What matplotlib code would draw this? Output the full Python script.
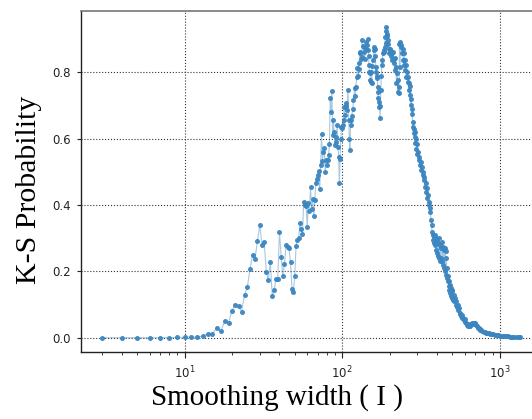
import matplotlib
matplotlib.use("Agg")
import matplotlib.pyplot as plt
import numpy as np

# ---- data (smoothing width, K-S probability) ----
widths_rise = [3, 4, 5, 6, 7, 8, 9, 10, 11, 12, 13, 14, 15, 16, 17, 18, 19, 20, 21, 22,
               23, 24, 25, 26, 27, 28, 29, 30, 31, 32, 33, 34, 35, 36, 37, 38, 39, 40, 41, 42,
               43, 44, 45, 46, 47, 48, 49, 50, 51, 52, 53, 54, 55, 56, 57, 58, 59, 60, 61, 62,
               63, 64, 65, 66, 67, 68, 69, 70, 71, 72, 73, 74, 75, 76, 77, 78, 79, 80, 81, 82,
               83, 84, 85, 86, 87, 88, 89, 90, 91, 92, 93, 94, 95, 96, 97, 98, 99, 100, 101, 102,
               103, 104, 105]
ks_rise = [0.0, 0.0, 0.0, 0.0, 0.0, 0.0, 0.001, 0.001, 0.002, 0.002,
           0.005, 0.01, 0.011, 0.03, 0.02, 0.051, 0.045, 0.082, 0.10, 0.095,
           0.079, 0.129, 0.152, 0.207, 0.25, 0.238, 0.292, 0.34, 0.28, 0.288,
           0.198, 0.175, 0.229, 0.126, 0.143, 0.177, 0.178, 0.319, 0.244, 0.186,
           0.221, 0.279, 0.272, 0.269, 0.227, 0.148, 0.138, 0.186, 0.277, 0.294,
           0.301, 0.347, 0.329, 0.314, 0.41, 0.40, 0.397, 0.334, 0.405, 0.383,
           0.455, 0.387, 0.417, 0.367, 0.415, 0.465, 0.48, 0.49, 0.502, 0.447,
           0.52, 0.614, 0.533, 0.56, 0.573, 0.50, 0.535, 0.52, 0.535, 0.55,
           0.583, 0.722, 0.681, 0.745, 0.611, 0.656, 0.62, 0.581, 0.59, 0.606,
           0.64, 0.574, 0.545, 0.465, 0.54, 0.60, 0.636, 0.631, 0.64, 0.656,
           0.696, 0.671, 0.70]

widths_peak = [106, 107, 109, 110, 111, 112, 113, 114, 115, 117,
               118, 120, 121, 122, 124, 125, 126, 127, 128, 129,
               130, 131, 133, 134, 135, 137, 138, 139, 141, 142,
               143, 145, 146, 147, 148, 149, 150, 151, 152, 153,
               154, 155, 157, 159, 160, 161, 162, 164, 165, 166,
               167, 168, 169, 170, 171, 172, 174, 175, 176, 177,
               179, 180, 181, 183, 184, 186, 188, 189, 190, 191,
               192, 193, 194, 196, 197, 199, 200, 202, 204, 206,
               208, 210, 212, 214, 216, 217, 219, 221, 223, 225,
               226, 228, 230, 231, 232, 234, 236]
ks_peak = [0.708, 0.686, 0.747, 0.656, 0.60, 0.566, 0.641, 0.656, 0.67, 0.691,
           0.716, 0.752, 0.73, 0.757, 0.787, 0.812, 0.79, 0.827, 0.81, 0.857,
           0.862, 0.84, 0.847, 0.897, 0.88, 0.877, 0.862, 0.84, 0.892, 0.87,
           0.882, 0.902, 0.867, 0.85, 0.822, 0.80, 0.797, 0.777, 0.772, 0.802,
           0.767, 0.82, 0.837, 0.877, 0.867, 0.872, 0.85, 0.802, 0.817, 0.782,
           0.79, 0.757, 0.74, 0.722, 0.696, 0.71, 0.661, 0.70, 0.747, 0.79,
           0.822, 0.837, 0.857, 0.862, 0.867, 0.877, 0.907, 0.89, 0.925, 0.937,
           0.91, 0.917, 0.897, 0.887, 0.87, 0.857, 0.867, 0.872, 0.85, 0.837,
           0.857, 0.862, 0.84, 0.827, 0.842, 0.807, 0.817, 0.767, 0.797, 0.742,
           0.777, 0.737, 0.757, 0.887, 0.817, 0.892, 0.877]

widths_fall = [238, 240, 242, 244, 246, 248, 250, 252, 254, 256,
               258, 260, 262, 264, 266, 268, 270, 272, 274, 276,
               278, 280, 282, 284, 286, 288, 290, 292, 294, 296,
               298, 300, 303, 306, 309, 312, 315, 318, 321, 324,
               327, 330, 333, 336, 339, 342, 345, 348, 351, 354,
               357, 360, 363, 366, 369, 372, 375, 378, 381, 384,
               387, 390, 393, 396, 399, 402, 405, 408, 411, 414,
               417, 420]
ks_fall = [0.882, 0.857, 0.87, 0.837, 0.822, 0.857, 0.837, 0.807, 0.822, 0.787,
           0.80, 0.772, 0.787, 0.747, 0.767, 0.732, 0.76, 0.702, 0.72, 0.676,
           0.69, 0.636, 0.65, 0.616, 0.63, 0.606, 0.62, 0.586, 0.60, 0.57,
           0.585, 0.555, 0.56, 0.535, 0.545, 0.52, 0.53, 0.505, 0.515, 0.49,
           0.50, 0.475, 0.485, 0.455, 0.465, 0.44, 0.45, 0.42, 0.43, 0.40,
           0.41, 0.38, 0.39, 0.355, 0.34, 0.32, 0.31, 0.295, 0.305, 0.285,
           0.31, 0.28, 0.30, 0.265, 0.295, 0.255, 0.285, 0.245, 0.30, 0.24,
           0.28, 0.23]

widths_tail = [423, 426, 429, 432, 435, 438, 441, 444, 447, 450,
               453, 456, 459, 462, 465, 468, 471, 474, 477, 480,
               483, 486, 489, 492, 495, 498, 501, 505, 510, 515,
               520, 525, 530, 535, 540, 545, 550, 556, 562, 568,
               574, 580, 586, 592, 598, 604, 610, 617, 624, 631,
               638, 645, 652, 660, 668, 676, 684, 692, 700, 708,
               716, 725, 735, 745, 755, 765, 775, 790, 805, 820,
               835, 850, 870, 890, 910, 930, 955, 980, 1005, 1035,
               1065, 1095, 1130, 1165, 1200, 1240, 1280, 1320, 1345]
ks_tail = [0.27, 0.24, 0.29, 0.23, 0.275, 0.22, 0.265, 0.21, 0.27, 0.20,
           0.26, 0.19, 0.24, 0.18, 0.21, 0.17, 0.185, 0.155, 0.17, 0.145,
           0.16, 0.135, 0.15, 0.125, 0.145, 0.12, 0.14, 0.115, 0.13, 0.11,
           0.12, 0.10, 0.11, 0.092, 0.10, 0.085, 0.09, 0.072, 0.075, 0.065,
           0.068, 0.058, 0.06, 0.052, 0.055, 0.047, 0.045, 0.04, 0.038, 0.036,
           0.034, 0.036, 0.04, 0.042, 0.044, 0.042, 0.045, 0.043, 0.04, 0.038,
           0.034, 0.03, 0.028, 0.026, 0.024, 0.022, 0.02, 0.018, 0.016, 0.015,
           0.014, 0.013, 0.012, 0.011, 0.010, 0.009, 0.008, 0.007, 0.0065, 0.006,
           0.005, 0.0045, 0.004, 0.0035, 0.003, 0.0028, 0.0025, 0.0022, 0.002]

x_label = "Smoothing width ( I )"
y_label = "K-S Probability"

widths = np.array(widths_rise + widths_peak + widths_fall + widths_tail, dtype=float)
ks = np.array(ks_rise + ks_peak + ks_fall + ks_tail, dtype=float)
assert len(widths) == len(ks)

# ---- figure ----
W, H = 532, 419
fig = plt.figure(figsize=(W / 100, H / 100), dpi=100)
left, right, top, bottom = 81, 544, 10.7, 352.3
ax = fig.add_axes([left / W, 1 - bottom / H, (right - left) / W, (bottom - top) / H])

col = "#3b86c0"
ax.plot(widths, ks, "-", color=col, lw=0.8, alpha=0.45, zorder=2)
ax.plot(widths, ks, "o", color=col, ms=3.6, mec=col, mew=0, alpha=0.95, zorder=3)

ax.set_xscale("log")
ax.set_xlim(2.2, 1910)
ax.set_ylim(-0.044, 0.986)
ax.set_yticks([0.0, 0.2, 0.4, 0.6, 0.8])

ax.grid(True, which="major", linestyle=":", color="#333333", linewidth=0.8)
ax.tick_params(axis="x", which="major", labelsize=8.5, length=4.3, width=0.8, pad=4.5,
               colors="#222222")
ax.tick_params(axis="y", which="major", labelsize=8.5, length=2.6, width=0.8, pad=4.5,
               colors="#222222")
ax.tick_params(axis="x", which="minor", length=2.2, width=0.6, colors="#222222")

for s in ["left", "bottom"]:
    ax.spines[s].set_color("#222222")
    ax.spines[s].set_linewidth(1.0)
ax.spines["top"].set_color("#777777")
ax.spines["top"].set_linewidth(1.2)

serif = ["Liberation Serif", "DejaVu Serif"]
ax.set_xlabel(x_label, fontsize=21, family=serif)
ax.set_ylabel(y_label, fontsize=21.5, family=serif)
ax.xaxis.set_label_coords((277 - left) / (right - left), -(384 - bottom) / (bottom - top))
ax.yaxis.set_label_coords(-(left - 42.5) / (right - left), (bottom - 190) / (bottom - top))

fig.savefig("out.png", dpi=100)
